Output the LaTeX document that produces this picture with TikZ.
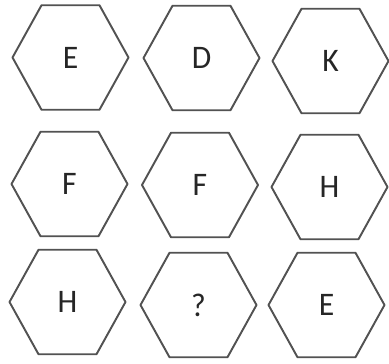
\documentclass[tikz,border=0pt]{standalone}
\usepackage{fontspec}
\setmainfont{Carlito}
\usepackage{tikz}
\usetikzlibrary{shapes.geometric}

\begin{document}
\begin{tikzpicture}[x=1cm,y=1cm,line cap=round,line join=round]
\tikzset{
    hexcell/.style={regular polygon, regular polygon sides=6, minimum size=2.32cm,
        inner sep=0pt, draw=black!68, line width=1.1pt, yscale=1.04, transform shape,
        text=black!85, font=\fontsize{18}{18}\selectfont},
}
\useasboundingbox (0,0) rectangle (7.78,7.26);
\node[hexcell] (r1c1) at (1.41,6.11) {E};
\node[hexcell] (r1c2) at (4.03,6.10) {D};
\node[hexcell] (r1c3) at (6.61,6.04) {K};
\node[hexcell] (r2c1) at (1.39,3.58) {F};
\node[hexcell] (r2c2) at (4.00,3.56) {F};
\node[hexcell] (r2c3) at (6.59,3.52) {H};
\node[hexcell] (r3c1) at (1.35,1.22) {H};
\node[hexcell] (r3c2) at (3.97,1.16) {?};
\node[hexcell] (r3c3) at (6.53,1.16) {E};
\end{tikzpicture}
\end{document}
